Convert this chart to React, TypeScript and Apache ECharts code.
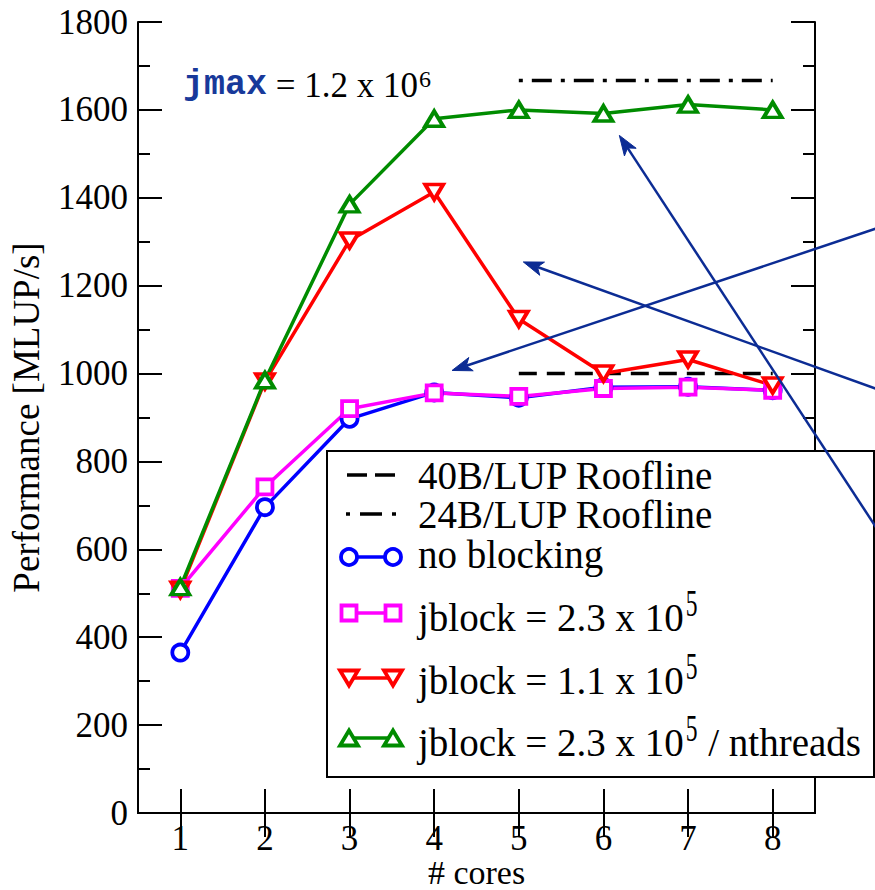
import React, { useEffect, useRef } from "react";
import * as echarts from "echarts";

// ---- data ----
const cores = [1, 2, 3, 4, 5, 6, 7, 8];
const noBlocking = [365, 696, 897, 957, 945, 969, 970, 962];
const jblock23 = [511, 742, 920, 956, 948, 966, 969, 962];
const jblock11 = [508, 982, 1303, 1413, 1124, 1000, 1032, 973];
const jblock23n = [514, 985, 1385, 1580, 1600, 1592, 1612, 1600];
const roofline40 = [[5, 1000], [8, 1000]];
const roofline24 = [[5, 1667], [8, 1667]];
const yTicks = { min: 0, max: 1800, interval: 200 };
const xTickValues = [1, 2, 3, 4, 5, 6, 7, 8];
// annotation arrows in data coordinates: [startX, startY, tipX, tipY]
const arrows = [
  [9.3, 1335, 4.211, 1007],
  [9.3, 960, 5.053, 1254],
  [9.3, 627, 6.188, 1542],
];

const SERIF = "'Liberation Serif', 'Times New Roman', serif";
const MONO = "'Liberation Mono', 'Courier New', monospace";
const BLUE = "#0000ff";
const MAGENTA = "#ff00ff";
const RED = "#ff0000";
const GREEN = "#008c00";
const ARROW = "#0c2c94";

function measure(text: string, font: string): number {
  const c = document.createElement("canvas").getContext("2d");
  if (!c) return text.length * 18;
  c.font = font;
  return c.measureText(text).width;
}

export default function App() {
  const ref = useRef<HTMLDivElement>(null);

  useEffect(() => {
    if (!ref.current) return;
    const chart = echarts.init(ref.current, undefined, { renderer: "svg" });

    const axisLine = { show: true, lineStyle: { color: "#000", width: 2 } };
    const tick = { inside: true, length: 24, lineStyle: { color: "#000", width: 2 } };
    const minor = { show: true, splitNumber: 2, length: 12, lineStyle: { color: "#000", width: 2 } };

    const mkSeries = (name: string, vals: number[], color: string, symbol: string, size: any, rotate = 0) => ({
      name,
      type: "line",
      data: cores.map((c, i) => [c, vals[i]]),
      symbol,
      symbolSize: size,
      symbolRotate: rotate,
      showAllSymbol: true,
      lineStyle: { color, width: 3.5 },
      itemStyle: { color: "#ffffff", borderColor: color, borderWidth: 3.8 },
      emphasis: { disabled: true },
    });

    const option: any = {
      animation: false,
      backgroundColor: "#ffffff",
      grid: { left: 138, right: 60, top: 22, bottom: 77, containLabel: false, outerBoundsMode: "none" },
      xAxis: [
        {
          type: "value",
          min: 0.5,
          max: 8.5,
          position: "bottom",
          axisLine,
          axisTick: { ...tick, customValues: xTickValues },
          axisLabel: {
            customValues: xTickValues,
            color: "#000",
            fontSize: 35,
            lineHeight: 30,
            fontFamily: SERIF,
            margin: 10,
          },
          splitLine: { show: false },
          name: "# cores",
          nameLocation: "middle",
          nameGap: 42,
          nameMoveOverlap: false,
          nameTextStyle: { color: "#000", fontSize: 34, fontFamily: SERIF, lineHeight: 34 },
        },
        {
          type: "value",
          min: 0.5,
          max: 8.5,
          position: "top",
          axisLine,
          axisTick: { ...tick, customValues: xTickValues },
          axisLabel: { show: false, customValues: xTickValues },
          splitLine: { show: false },
        },
      ],
      yAxis: [
        {
          type: "value",
          ...yTicks,
          position: "left",
          axisLine,
          axisTick: tick,
          minorTick: minor,
          axisLabel: {
            color: "#000",
            fontSize: 35,
            fontFamily: SERIF,
            margin: 10,
            formatter: (v: number) => String(v),
          },
          splitLine: { show: false },
          minorSplitLine: { show: false },
          name: "Performance [MLUP/s]",
          nameLocation: "middle",
          nameGap: 93,
          nameMoveOverlap: false,
          nameTextStyle: { color: "#000", fontSize: 37, fontFamily: SERIF },
        },
        {
          type: "value",
          ...yTicks,
          position: "right",
          axisLine,
          axisTick: tick,
          minorTick: minor,
          axisLabel: { show: false },
          splitLine: { show: false },
          minorSplitLine: { show: false },
        },
      ],
      series: [
        {
          name: "40B/LUP Roofline",
          type: "line",
          data: roofline40,
          symbol: "none",
          lineStyle: { color: "#000", width: 3.5, type: [18, 10] },
          emphasis: { disabled: true },
        },
        {
          name: "24B/LUP Roofline",
          type: "line",
          data: roofline24,
          symbol: "none",
          lineStyle: { color: "#000", width: 3.5, type: [4, 9, 20, 9] },
          emphasis: { disabled: true },
        },
        mkSeries("no blocking", noBlocking, BLUE, "circle", 16),
        mkSeries("jblock = 2.3 x 10^5", jblock23, MAGENTA, "rect", 15),
        mkSeries("jblock = 1.1 x 10^5", jblock11, RED, "triangle", [18, 15], 180),
        mkSeries("jblock = 2.3 x 10^5 / nthreads", jblock23n, GREEN, "triangle", [18, 15]),
      ],
    };

    chart.setOption(option);

    // ---- graphic: annotation text, legend box, arrows ----
    const els: any[] = [];
    const serifFont = (s: number) => `${s}px 'Liberation Serif'`;

    // jmax annotation
    const jmaxX = 183;
    const jmaxY = 85;
    els.push({
      type: "text",
      x: jmaxX,
      y: jmaxY,
      z: 100,
      style: { text: "jmax", font: `bold 35px ${MONO}`, fill: "#18399a", verticalAlign: "middle", align: "left" },
    });
    const jmaxW = measure("jmax", `bold 35px 'Liberation Mono'`);
    const eqText = " = 1.2 x 10";
    els.push({
      type: "text",
      x: jmaxX + jmaxW,
      y: jmaxY,
      z: 100,
      style: { text: eqText, font: `35px ${SERIF}`, fill: "#000", verticalAlign: "middle", align: "left" },
    });
    const eqW = measure(eqText, serifFont(35));
    els.push({
      type: "text",
      x: jmaxX + jmaxW + eqW + 1,
      y: jmaxY - 6,
      z: 100,
      style: { text: "6", font: `24px ${SERIF}`, fill: "#000", verticalAlign: "middle", align: "left" },
    });

    // legend box
    const LX = 327, LY = 451, LW = 547, LH = 326;
    els.push({
      type: "rect",
      z: 50,
      shape: { x: LX, y: LY, width: LW, height: LH },
      style: { fill: "#ffffff", stroke: "#000", lineWidth: 2 },
    });
    const textX = 418;
    const LFS = 39;
    const SUPFS = 38;
    const SUPSX = 0.62;
    const rows: any[] = [
      { kind: "dash", y: 475, ty: 475, text: "40B/LUP Roofline" },
      { kind: "dashdot", y: 514, ty: 514, text: "24B/LUP Roofline" },
      { kind: "circle", color: BLUE, y: 557, ty: 554, text: "no blocking" },
      { kind: "square", color: MAGENTA, y: 613, ty: 617, text: "jblock = 2.3 x 10", sup: "5" },
      { kind: "down", color: RED, y: 678, ty: 680, text: "jblock = 1.1 x 10", sup: "5" },
      { kind: "up", color: GREEN, y: 738, ty: 742, text: "jblock = 2.3 x 10", sup: "5", after: " / nthreads" },
    ];
    const m1 = 349, m2 = 393;
    rows.forEach((r) => {
      if (r.kind === "dash") {
        els.push({ type: "line", z: 51, shape: { x1: 347, y1: r.y, x2: 395, y2: r.y }, style: { stroke: "#000", lineWidth: 3.5, lineDash: [20, 8] } });
      } else if (r.kind === "dashdot") {
        els.push({ type: "line", z: 51, shape: { x1: 346, y1: r.y, x2: 396, y2: r.y }, style: { stroke: "#000", lineWidth: 3.5, lineDash: [4, 10, 22, 10] } });
      } else {
        els.push({ type: "line", z: 51, shape: { x1: m1, y1: r.y, x2: m2, y2: r.y }, style: { stroke: r.color, lineWidth: 3.5 } });
        [m1, m2].forEach((cx) => {
          const st = { fill: "#ffffff", stroke: r.color, lineWidth: 3.8 };
          if (r.kind === "circle") {
            els.push({ type: "circle", z: 52, shape: { cx, cy: r.y, r: 8 }, style: st });
          } else if (r.kind === "square") {
            els.push({ type: "rect", z: 52, shape: { x: cx - 7.5, y: r.y - 7.5, width: 15, height: 15 }, style: st });
          } else if (r.kind === "down") {
            els.push({ type: "polygon", z: 52, shape: { points: [[cx - 9, r.y - 7.5], [cx + 9, r.y - 7.5], [cx, r.y + 7.5]] }, style: st });
          } else if (r.kind === "up") {
            els.push({ type: "polygon", z: 52, shape: { points: [[cx - 9, r.y + 7.5], [cx + 9, r.y + 7.5], [cx, r.y - 7.5]] }, style: st });
          }
        });
      }
      els.push({
        type: "text",
        x: textX,
        y: r.ty,
        z: 53,
        style: { text: r.text, font: `${LFS}px ${SERIF}`, fill: "#000", verticalAlign: "middle", align: "left" },
      });
      if (r.sup) {
        const w = measure(r.text, serifFont(LFS));
        const sx = textX + w + 2;
        els.push({
          type: "text",
          x: sx,
          y: r.ty - 14,
          scaleX: SUPSX,
          z: 53,
          style: { text: r.sup, font: `${SUPFS}px ${SERIF}`, fill: "#000", verticalAlign: "middle", align: "left" },
        });
        if (r.after) {
          const sw = measure(r.sup, serifFont(SUPFS)) * SUPSX;
          els.push({
            type: "text",
            x: sx + sw + 1,
            y: r.ty,
            z: 53,
            style: { text: r.after, font: `${LFS}px ${SERIF}`, fill: "#000", verticalAlign: "middle", align: "left" },
          });
        }
      }
    });

    // arrows (data coords -> pixels)
    arrows.forEach((a) => {
      const s = chart.convertToPixel({ xAxisIndex: 0, yAxisIndex: 0 }, [a[0], a[1]]) as number[];
      const t = chart.convertToPixel({ xAxisIndex: 0, yAxisIndex: 0 }, [a[2], a[3]]) as number[];
      const dx = t[0] - s[0], dy = t[1] - s[1];
      const len = Math.sqrt(dx * dx + dy * dy);
      const ux = dx / len, uy = dy / len;
      const nx = -uy, ny = ux;
      const L = 20, W = 7, N = 5;
      const bx = t[0] - L * ux, by = t[1] - L * uy;
      els.push({
        type: "line",
        z: 80,
        shape: { x1: s[0], y1: s[1], x2: t[0] - (L - N) * ux, y2: t[1] - (L - N) * uy },
        style: { stroke: ARROW, lineWidth: 2.5 },
      });
      els.push({
        type: "polygon",
        z: 81,
        shape: {
          points: [
            [t[0], t[1]],
            [bx + W * nx, by + W * ny],
            [t[0] - (L - N) * ux, t[1] - (L - N) * uy],
            [bx - W * nx, by - W * ny],
          ],
        },
        style: { fill: ARROW, stroke: ARROW, lineWidth: 1 },
      });
    });

    chart.setOption({ graphic: { elements: els } });

    return () => chart.dispose();
  }, []);

  return (
    <div
      ref={ref}
      style={{ position: "absolute", left: 0, top: 0, width: 875, height: 890, background: "#fff" }}
    />
  );
}
